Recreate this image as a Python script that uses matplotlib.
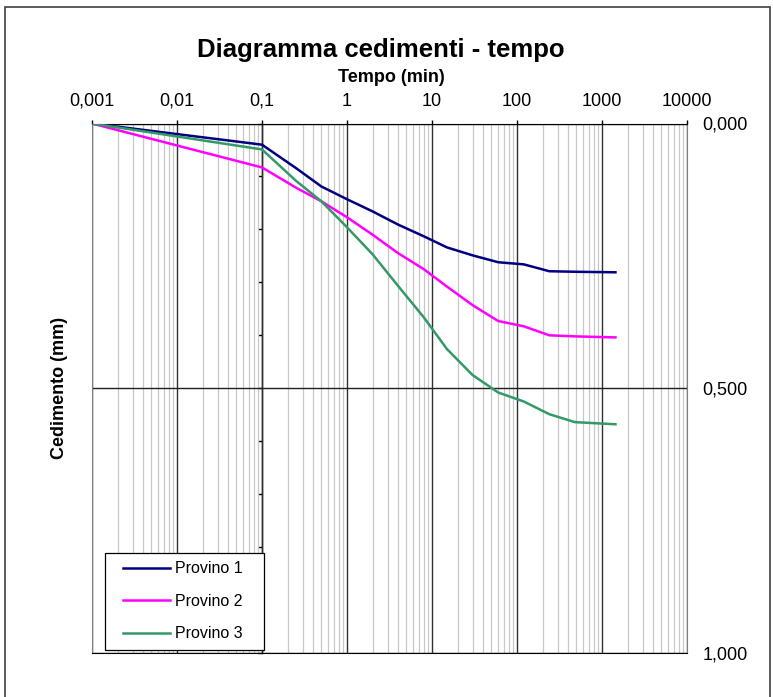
import numpy as np
import matplotlib
matplotlib.use("Agg")
import matplotlib.pyplot as plt
from matplotlib.ticker import FixedLocator, NullFormatter, LogLocator
from matplotlib.patches import Rectangle
from matplotlib.legend_handler import HandlerLine2D

plt.rcParams['font.family'] = ['Liberation Sans', 'DejaVu Sans']

# ---- data ----
tempo = [0.001, 0.1, 0.25, 0.5, 1, 2, 4, 8, 15, 30, 60, 120, 240, 480, 1440]
provino1 = [0.0, 0.040, 0.084, 0.119, 0.143, 0.166, 0.191, 0.213, 0.234, 0.249, 0.262, 0.266, 0.279, 0.280, 0.281]
provino2 = [0.0, 0.083, 0.121, 0.147, 0.177, 0.210, 0.245, 0.275, 0.308, 0.343, 0.373, 0.383, 0.400, 0.402, 0.404]
provino3 = [0.0, 0.049, 0.108, 0.147, 0.196, 0.247, 0.307, 0.366, 0.426, 0.475, 0.508, 0.525, 0.549, 0.564, 0.568]
series_names = ["Provino 1", "Provino 2", "Provino 3"]
series_colors = ["#000080", "#FF00FF", "#339966"]
x_ticks = [0.001, 0.01, 0.1, 1, 10, 100, 1000, 10000]
x_tick_labels = ["0,001", "0,01", "0,1", "1", "10", "100", "1000", "10000"]
y_ticks = [0.0, 0.5, 1.0]
y_tick_labels = ["0,000", "0,500", "1,000"]

W, H = 773, 697
fig = plt.figure(figsize=(W / 100, H / 100), dpi=100)
fig.patch.set_facecolor('white')

# outer frame
fig.patches.append(Rectangle((5 / W, -0.1), (770 - 5) / W, 1 - 7 / H + 0.1,
                             transform=fig.transFigure, fill=False,
                             edgecolor='#404040', linewidth=1.2))

L, R, T, B = 92, 687, 123.5, 653
ax = fig.add_axes([L / W, 1 - B / H, (R - L) / W, (B - T) / H])
ax.set_xscale('log')
ax.set_xlim(0.001, 10000)
ax.set_ylim(1.0, 0.0)

# grid
ax.xaxis.set_minor_locator(LogLocator(base=10, subs=np.arange(2, 10), numticks=20))
ax.xaxis.set_major_locator(FixedLocator(x_ticks))
ax.set_xticklabels(x_tick_labels)
ax.xaxis.set_minor_formatter(NullFormatter())
ax.grid(which='minor', axis='x', color='#c8c8c8', linewidth=0.9)
ax.grid(which='major', axis='x', color='#303030', linewidth=1.0)
ax.set_yticks(y_ticks)
ax.set_yticklabels(y_tick_labels)
ax.grid(which='major', axis='y', color='#202020', linewidth=1.0)
ax.set_axisbelow(True)

# x axis on top
ax.xaxis.set_ticks_position('top')
ax.xaxis.set_label_position('top')
ax.tick_params(axis='x', which='major', direction='out', length=3, width=1,
               colors='black', labelsize=13, pad=7)
ax.tick_params(axis='x', which='minor', length=0)
# y labels at right, no tick marks
ax.yaxis.set_ticks_position('right')
ax.tick_params(axis='y', which='both', length=0, labelsize=13, pad=11)

for s in ['left', 'right']:
    ax.spines[s].set_color('#808080')
ax.spines['bottom'].set_color('black')
ax.spines['top'].set_color('black')

# curves
for vals, name, col in zip([provino1, provino2, provino3], series_names, series_colors):
    ax.plot(tempo, vals, color=col, linewidth=1.8, label=name, zorder=3)

# value axis crossing at 0.1
sec = ax.secondary_yaxis(2 / 7)
sec.yaxis.set_major_locator(FixedLocator(y_ticks))
sec.yaxis.set_minor_locator(FixedLocator(np.round(np.arange(0, 1.01, 0.1), 2)))
sec.yaxis.set_major_formatter(NullFormatter())
sec.yaxis.set_minor_formatter(NullFormatter())
sec.tick_params(axis='y', which='both', direction='out', length=3, width=1, colors='black')
sec.spines['left'].set_color('black')
sec.spines['left'].set_linewidth(1.0)

# labels
fig.text(381 / W, 1 - 50 / H, "Diagramma cedimenti - tempo", ha='center', va='center',
         fontsize=18.5, fontweight='bold')
ax.set_xlabel("Tempo (min)", fontsize=13, fontweight='bold')
ax.xaxis.set_label_coords((391 - L) / (R - L), (B - 78) / (B - T))
ax.xaxis.label.set_va('center')
ax.set_ylabel("Cedimento (mm)", fontsize=13, fontweight='bold')
ax.yaxis.set_label_position('left')
ax.yaxis.set_label_coords((59 - L) / (R - L), 0.5)
ax.yaxis.label.set_va('center')

fs = 11.5
fpx = fs * 100 / 72
leg = ax.legend(loc='lower left',
                bbox_to_anchor=((105 - L) / (R - L), (B - 650) / (B - T),
                                (264 - 105) / (R - L), 0.18),
                mode='expand', borderaxespad=0, fontsize=fs, frameon=True,
                fancybox=False, edgecolor='black', framealpha=1,
                numpoints=2, handlelength=(47 + 2 * 9.2) / fpx,
                handletextpad=-4.2 / fpx, labelspacing=1.09, borderpad=8.8 / fpx,
                handler_map={matplotlib.lines.Line2D: HandlerLine2D(marker_pad=9.2 / fpx)})
leg.get_frame().set_linewidth(0.9)
leg.set_zorder(5)

fig.savefig("out.png", dpi=100)
